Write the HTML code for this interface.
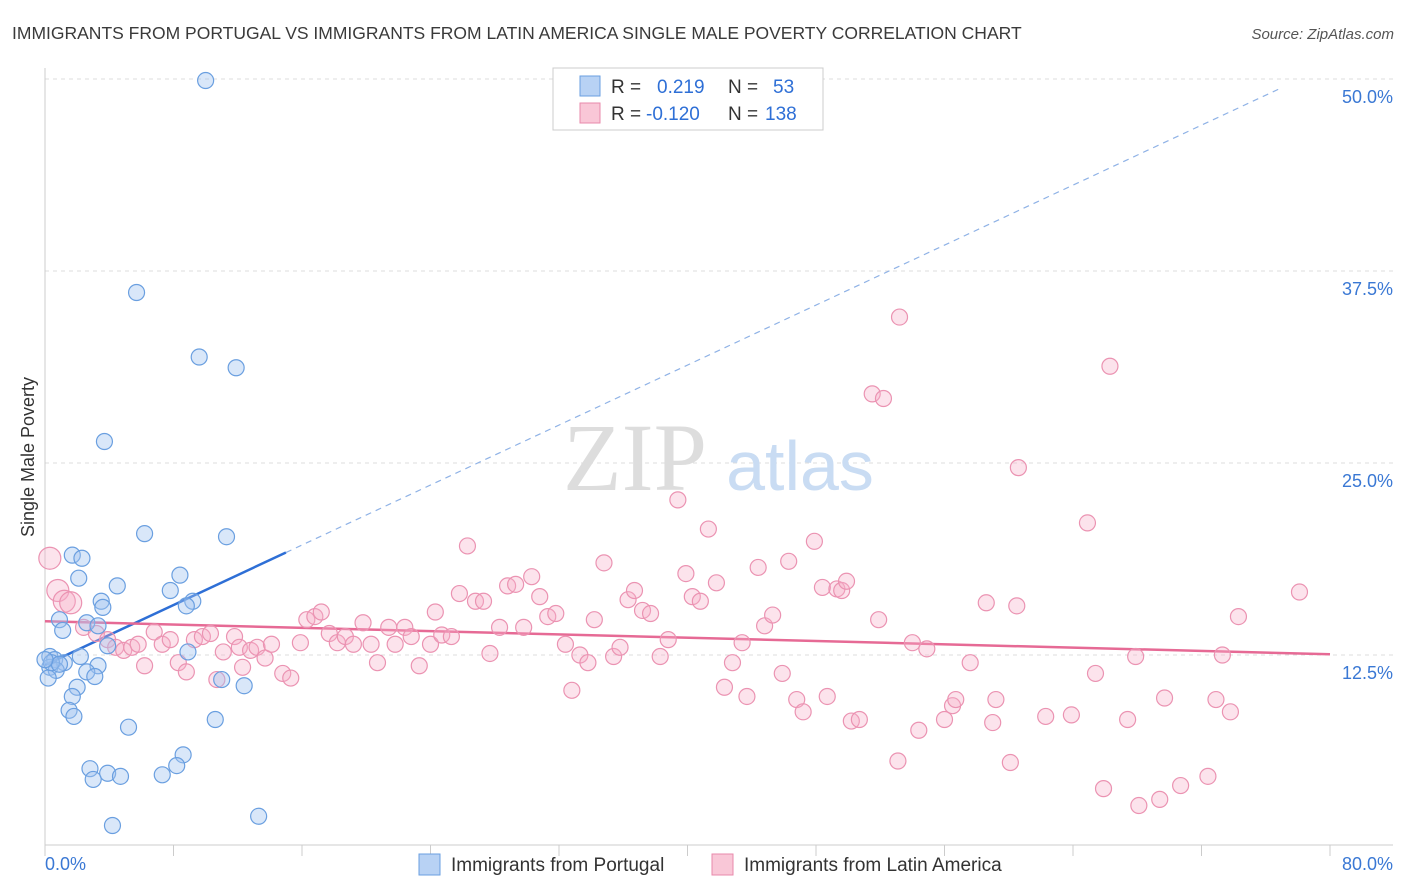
<!DOCTYPE html>
<html><head><meta charset="utf-8"><style>
body{margin:0;background:#fff;font-family:"Liberation Sans",sans-serif;}
svg{display:block}
</style></head><body>
<svg id="chart" width="1406" height="892" xmlns="http://www.w3.org/2000/svg">
<text x="12" y="39" font-size="17.5" fill="#3a3a3a" font-family="Liberation Sans, sans-serif">IMMIGRANTS FROM PORTUGAL VS IMMIGRANTS FROM LATIN AMERICA SINGLE MALE POVERTY CORRELATION CHART</text>
<text x="1394" y="39" font-size="15" fill="#555" font-style="italic" text-anchor="end">Source: ZipAtlas.com</text>
<g id="grid"></g>
<g>
<text x="635" y="490" font-size="96" fill="#ddd" text-anchor="middle" font-family="Liberation Serif, serif">ZIP</text>
<text x="800" y="490" font-size="70" fill="#c9dcf3" text-anchor="middle">atlas</text>
</g>
<text transform="translate(34,457) rotate(-90)" font-size="18" fill="#333" text-anchor="middle">Single Male Poverty</text>
<g id="axes"></g>
<g id="trend"></g>
<g id="pts"></g>
<g>
<rect x="553" y="68" width="270" height="62" fill="#fff" stroke="#ccc"/>
<rect x="580" y="76" width="20" height="20" fill="#b8d2f4" stroke="#6a9fe0"/>
<rect x="580" y="103" width="20" height="20" fill="#f9c7d7" stroke="#e88aab"/>
<text x="611" y="93" font-size="19" fill="#333">R =</text>
<text x="657" y="93" font-size="19" fill="#2e6fd6">0.219</text>
<text x="728" y="93" font-size="19" fill="#333">N =</text>
<text x="773" y="93" font-size="19" fill="#2e6fd6">53</text>
<text x="611" y="120" font-size="19" fill="#333">R =</text>
<text x="646" y="120" font-size="19" fill="#2e6fd6">-0.120</text>
<text x="728" y="120" font-size="19" fill="#333">N =</text>
<text x="765" y="120" font-size="19" fill="#2e6fd6">138</text>
</g>
<g>
<rect x="419" y="854" width="21" height="21" fill="#b8d2f4" stroke="#6a9fe0"/>
<text x="451" y="871" font-size="19" fill="#333">Immigrants from Portugal</text>
<rect x="712" y="854" width="21" height="21" fill="#f9c7d7" stroke="#e88aab"/>
<text x="744" y="871" font-size="19" fill="#333">Immigrants from Latin America</text>
</g>
</svg>
<script>
const yTicks=[12.5,25.0,37.5,50.0];
const xLabels=["0.0%","80.0%"];
const blueX=[10.0,5.7,9.6,11.9,3.7,6.2,11.3,1.7,2.3,2.1,4.5,8.4,7.8,3.5,3.6,9.2,8.8,0.9,2.6,3.3,1.1,3.9,2.2,8.9,0.3,0.6,1.2,0.3,0.7,3.3,2.6,3.1,11.0,12.4,0.2,2.0,1.7,1.5,1.8,10.6,5.2,8.6,8.2,2.8,3.9,4.7,7.3,3.0,13.3,4.2,0.4,0.9,0.0];
const blueY=[49.9,36.1,31.9,31.2,26.4,20.4,20.2,19.0,18.8,17.5,17.0,17.7,16.7,16.0,15.6,16.0,15.7,14.8,14.6,14.4,14.1,13.1,12.4,12.7,12.4,12.2,12.0,11.7,11.5,11.8,11.4,11.1,10.9,10.5,11.0,10.4,9.8,8.9,8.5,8.3,7.8,6.0,5.3,5.1,4.8,4.6,4.7,4.4,2.0,1.4,12.0,11.9,12.2];
const pinkX=[0.3,0.8,1.2,1.6,2.4,3.2,3.9,4.4,4.9,5.4,5.8,6.2,6.8,7.3,7.8,8.3,8.8,9.3,9.8,10.3,10.7,11.1,11.8,12.1,12.3,12.8,13.2,13.7,14.1,14.8,15.3,15.9,16.3,16.8,17.2,17.7,18.2,18.7,19.2,19.8,20.3,20.7,21.4,21.8,22.4,22.8,23.3,24.0,24.3,24.7,25.3,25.8,26.3,26.8,27.3,27.7,28.3,28.8,29.3,29.8,30.3,30.8,31.3,31.8,32.4,32.8,33.3,33.8,34.2,34.8,35.4,35.8,36.3,36.7,37.2,37.7,38.3,38.8,39.4,39.9,40.3,40.8,41.3,41.8,42.3,42.8,43.4,43.7,44.4,44.8,45.3,45.9,46.3,46.8,47.2,47.9,48.4,48.7,49.3,49.6,49.9,50.2,50.7,51.9,51.5,52.2,53.1,53.2,54.0,54.4,54.9,56.0,56.5,56.7,57.6,58.6,59.0,59.2,60.1,60.5,60.6,62.3,63.9,64.9,65.4,65.9,66.3,67.4,67.9,68.1,69.4,69.7,70.7,72.4,72.9,73.3,73.8,74.3,78.1];
const pinkY=[18.8,16.7,16.0,15.9,14.3,13.9,13.5,13.0,12.8,13.0,13.2,11.8,14.0,13.2,13.5,12.0,11.4,13.5,13.7,13.9,10.9,12.7,13.7,13.0,11.7,12.8,13.0,12.3,13.2,11.3,11.0,13.3,14.8,15.0,15.3,13.9,13.3,13.7,13.2,14.6,13.2,12.0,14.3,13.2,14.3,13.7,11.8,13.2,15.3,13.8,13.7,16.5,19.6,16.0,16.0,12.6,14.3,17.0,17.1,14.3,17.6,16.3,15.0,15.2,13.2,10.2,12.5,12.0,14.8,18.5,12.4,13.0,16.1,16.7,15.4,15.2,12.4,13.5,22.6,17.8,16.3,16.0,20.7,17.2,10.4,12.0,13.3,9.8,18.2,14.4,15.1,11.3,18.6,9.6,8.8,19.9,16.9,9.8,16.8,16.7,17.3,8.2,8.3,14.8,29.5,29.2,5.6,34.5,13.3,7.6,12.9,8.3,9.2,9.6,12.0,15.9,8.1,9.6,5.5,15.7,24.7,8.5,8.6,21.1,11.3,3.8,31.3,8.3,12.4,2.7,3.1,9.7,4.0,4.6,9.6,12.5,8.8,15.0,16.6];
const blueTrend=[11.85,50.9];
const pinkTrend=[14.7,12.55];
const NS="http://www.w3.org/2000/svg";
const X0=45,X1=1330,Y0=847,Y1=79;
const sx=v=>X0+(v/80)*(X1-X0);
const sy=v=>Y0-(v/50)*(Y0-Y1);
function mk(tag,attrs,parent){const e=document.createElementNS(NS,tag);for(const k in attrs)e.setAttribute(k,attrs[k]);parent.appendChild(e);return e;}
const grid=document.getElementById('grid');
yTicks.forEach(t=>{
 const l=mk('line',{x1:X0,x2:1393,y1:sy(t),y2:sy(t),stroke:'#ddd','stroke-dasharray':'4,4'},grid);
 
 
 const tx=mk('text',{x:1393,y:sy(t)+24,'font-size':18,fill:'#3a78d4','text-anchor':'end'},grid);
 tx.textContent=t.toFixed(1)+'%';
 
 
});
const axes=document.getElementById('axes');
mk('line',{x1:X0,x2:X0,y1:68,y2:845,stroke:'#ccc'},axes);
mk('line',{x1:X0,x2:1393,y1:845,y2:845,stroke:'#ccc'},axes);
for(let i=0;i<=10;i++){const x=sx(i*8);const t=mk('line',{x1:x,x2:x,y1:845,y2:856,stroke:'#ccc'},axes);
 
 }
const xl0=mk('text',{x:45,y:870,'font-size':18,fill:'#3a78d4'},axes);xl0.textContent=xLabels[0];


const xl1=mk('text',{x:1393,y:870,'font-size':18,fill:'#3a78d4','text-anchor':'end'},axes);xl1.textContent=xLabels[1];


const pts=document.getElementById('pts');
pinkX.forEach((x,i)=>{const r=(x<2)?11:8;const c=mk('circle',{cx:sx(x),cy:sy(pinkY[i]),r:r,fill:'rgba(246,176,200,0.35)',stroke:'#eb93b2','stroke-width':1.2},pts);
 
 });
blueX.forEach((x,i)=>{const c=mk('circle',{cx:sx(x),cy:sy(blueY[i]),r:8,fill:'rgba(160,196,240,0.4)',stroke:'#6a9fe0','stroke-width':1.2},pts);
 
 });
const tr=document.getElementById('trend');
const bAt=x=>blueTrend[0]+(blueTrend[1]-blueTrend[0])*x/80;
const b1=mk('line',{x1:sx(0),y1:sy(bAt(0)),x2:sx(15),y2:sy(bAt(15)),stroke:'#2e6fd6','stroke-width':2.5},tr);


const b2=mk('line',{x1:sx(15),y1:sy(bAt(15)),x2:sx(76.9),y2:sy(bAt(76.9)),stroke:'#8fb2e6','stroke-width':1.2,'stroke-dasharray':'6,5'},tr);


const p1=mk('line',{x1:sx(0),y1:sy(pinkTrend[0]),x2:sx(80),y2:sy(pinkTrend[1]),stroke:'#e66a95','stroke-width':2.5},tr);


</script>
</body></html>
